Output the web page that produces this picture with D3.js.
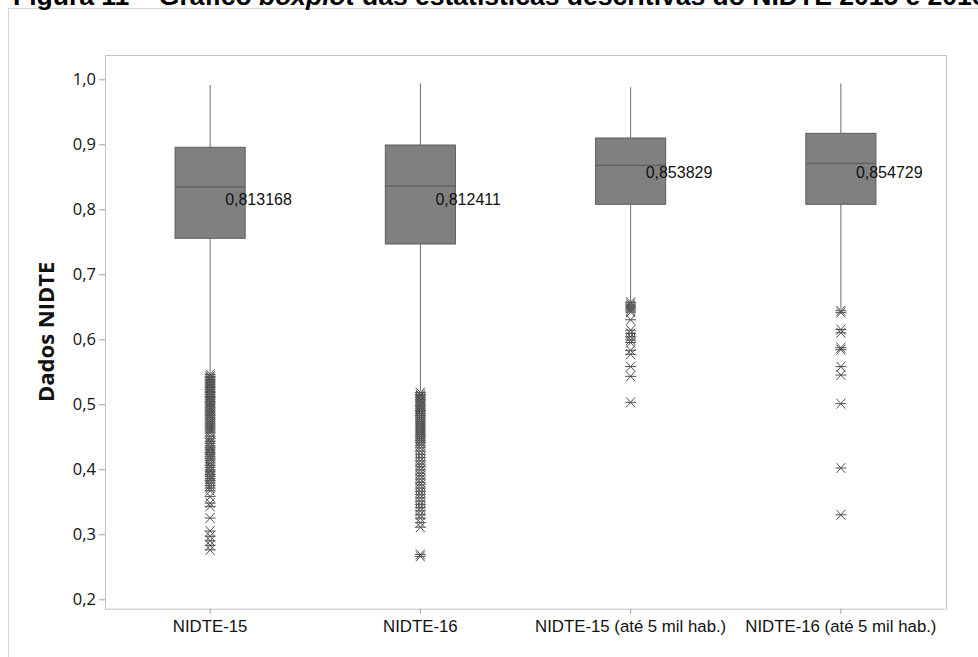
<!DOCTYPE html>
<html lang="pt">
<head>
<meta charset="utf-8">
<script src="https://cdn.jsdelivr.net/npm/d3@7"></script>
<style>
  html, body { margin: 0; padding: 0; background: #fff; }
  svg { display: block; }
</style>
</head>
<body>
<svg id="chart" width="978" height="657"></svg>
<script>
// Categorias e estatísticas de cada boxplot
const categories = ["NIDTE-15", "NIDTE-16", "NIDTE-15 (até 5 mil hab.)", "NIDTE-16 (até 5 mil hab.)"];
const q1Values = [0.7554, 0.7466, 0.8077, 0.8077];
const medianValues = [0.8343, 0.8358, 0.8677, 0.8708];
const q3Values = [0.8954, 0.8989, 0.9097, 0.9169];
const whiskerLowValues = [0.547, 0.520, 0.658, 0.647];
const whiskerHighValues = [0.9912, 0.9938, 0.9877, 0.9938];
const meanValues = [0.813168, 0.812411, 0.853829, 0.854729];

// Valores atípicos (asteriscos) de cada grupo
const outliersNidte15 = [0.546, 0.543, 0.541, 0.538, 0.536, 0.533, 0.531, 0.528, 0.526, 0.523, 0.520, 0.518,
  0.515, 0.512, 0.510, 0.507, 0.504, 0.502, 0.499, 0.496, 0.494, 0.491, 0.488, 0.485, 0.483, 0.480, 0.477,
  0.474, 0.471, 0.468, 0.465, 0.462, 0.459, 0.456, 0.451, 0.447, 0.443, 0.440, 0.436, 0.433, 0.430, 0.426,
  0.423, 0.420, 0.417, 0.414, 0.410, 0.406, 0.403, 0.399, 0.396, 0.392, 0.389, 0.386, 0.383, 0.379, 0.375,
  0.371, 0.367, 0.358, 0.348, 0.343, 0.325, 0.305, 0.297, 0.290, 0.283, 0.276];
const outliersNidte16 = [0.518, 0.515, 0.513, 0.510, 0.507, 0.505, 0.502, 0.499, 0.497, 0.494, 0.491, 0.489,
  0.486, 0.483, 0.480, 0.477, 0.474, 0.471, 0.468, 0.465, 0.462, 0.459, 0.456, 0.453, 0.450, 0.447, 0.444,
  0.441, 0.437, 0.433, 0.428, 0.423, 0.418, 0.413, 0.408, 0.404, 0.399, 0.394, 0.390, 0.385, 0.380, 0.376,
  0.371, 0.366, 0.361, 0.356, 0.351, 0.346, 0.341, 0.336, 0.330, 0.325, 0.318, 0.311, 0.269, 0.266];
const outliersNidte15Small = [0.657, 0.654, 0.651, 0.648, 0.645, 0.642, 0.630, 0.614, 0.609, 0.604, 0.599,
  0.595, 0.583, 0.577, 0.558, 0.543, 0.503];
const outliersNidte16Small = [0.644, 0.641, 0.615, 0.610, 0.587, 0.584, 0.558, 0.545, 0.501, 0.402, 0.330];
const outlierGroups = [outliersNidte15, outliersNidte16, outliersNidte15Small, outliersNidte16Small];

const yTicks = [0.2, 0.3, 0.4, 0.5, 0.6, 0.7, 0.8, 0.9, 1.0];
const yAxisTitle = "Dados NIDTE";
const titleStart = "Figura 11 – Gráfico ";
const titleItalic = "boxplot";
const titleEnd = " das estatísticas descritivas do NIDTE 2015 e 2016";

const ptBR = d3.formatLocale({ decimal: ",", thousands: ".", grouping: [3], currency: ["R$", ""] });
const fmtTick = ptBR.format(".1f");
const fmtMean = ptBR.format(".6f");

const svg = d3.select("#chart");
const W = 978, H = 657;
const plot = { left: 105, right: 946, top: 55, bottom: 608.7 };

// Escalas: a área do gráfico vai um pouco além de 0,2 e 1,0
const y = d3.scaleLinear().domain([0.18554, 1.03738]).range([plot.bottom, plot.top]);
const x = d3.scaleBand().domain(categories).range([plot.left, plot.right]).padding(0);
const cx = c => x(c) + x.bandwidth() / 2;
const boxW = x.bandwidth() / 3;

// Moldura externa
svg.append("rect")
  .attr("x", 8.5).attr("y", 8.5).attr("width", W + 20).attr("height", H + 20)
  .attr("fill", "none").attr("stroke", "#d6d6d6").attr("stroke-width", 1);

// Título (cortado no topo)
const title = svg.append("text")
  .attr("x", 13).attr("y", 5)
  .attr("font-family", "'Liberation Sans', Arial, sans-serif")
  .attr("font-size", 26.5).attr("font-weight", "bold").attr("fill", "#000");
title.append("tspan").text(titleStart);
title.append("tspan").attr("font-style", "italic").text(titleItalic);
title.append("tspan").text(titleEnd);

// Área do gráfico
svg.append("rect")
  .attr("x", plot.left + 0.5).attr("y", plot.top + 0.5)
  .attr("width", plot.right - plot.left).attr("height", plot.bottom - plot.top)
  .attr("fill", "#fff").attr("stroke", "#c4c4c4").attr("stroke-width", 1);

// Eixo Y
const yAxis = svg.append("g")
  .attr("transform", `translate(${plot.left},0)`)
  .call(d3.axisLeft(y).tickValues(yTicks).tickSize(6).tickPadding(3).tickFormat(fmtTick));
yAxis.select(".domain").remove();
yAxis.selectAll(".tick line").attr("stroke", "#a0a0a0");
yAxis.selectAll(".tick text")
  .attr("font-family", "'Open Sans', 'Noto Sans', sans-serif")
  .attr("font-size", 16.5).attr("fill", "#111");

// Eixo X
const xAxis = svg.append("g")
  .attr("transform", `translate(0,${plot.bottom})`)
  .call(d3.axisBottom(x).tickSize(5).tickPadding(6));
xAxis.select(".domain").remove();
xAxis.selectAll(".tick line").attr("stroke", "#a0a0a0");
xAxis.selectAll(".tick text")
  .attr("font-family", "'Liberation Sans', Arial, sans-serif")
  .attr("font-size", 16.8).attr("fill", "#111");

// Título do eixo Y
svg.append("text")
  .attr("transform", `translate(54,${(plot.top + plot.bottom) / 2}) rotate(-90)`)
  .attr("text-anchor", "middle")
  .attr("font-family", "'Open Sans', 'Noto Sans', sans-serif")
  .attr("font-size", 22).attr("font-weight", "bold").attr("fill", "#111")
  .text(yAxisTitle);

// Boxplots
const groups = svg.append("g").selectAll("g")
  .data(categories.map((c, i) => ({
    c, q1: q1Values[i], med: medianValues[i], q3: q3Values[i],
    lo: whiskerLowValues[i], hi: whiskerHighValues[i], mean: meanValues[i], out: outlierGroups[i]
  })))
  .join("g");

// Bigodes
groups.append("line")
  .attr("x1", d => cx(d.c)).attr("x2", d => cx(d.c))
  .attr("y1", d => y(d.hi)).attr("y2", d => y(d.q3))
  .attr("stroke", "#6e6e6e").attr("stroke-width", 1);
groups.append("line")
  .attr("x1", d => cx(d.c)).attr("x2", d => cx(d.c))
  .attr("y1", d => y(d.q1)).attr("y2", d => y(d.lo))
  .attr("stroke", "#6e6e6e").attr("stroke-width", 1);

// Caixa interquartil
groups.append("rect")
  .attr("x", d => cx(d.c) - boxW / 2).attr("width", boxW)
  .attr("y", d => y(d.q3)).attr("height", d => y(d.q1) - y(d.q3))
  .attr("fill", "#808080").attr("stroke", "#5c5c5c").attr("stroke-width", 1);

// Mediana
groups.append("line")
  .attr("x1", d => cx(d.c) - boxW / 2).attr("x2", d => cx(d.c) + boxW / 2)
  .attr("y1", d => y(d.med)).attr("y2", d => y(d.med))
  .attr("stroke", "#565656").attr("stroke-width", 1);

// Asteriscos dos valores atípicos
const star = "M-5.5,0H5.5M-4.5,-5L4.5,5M-4.5,5L4.5,-5";
groups.each(function (d) {
  d3.select(this).selectAll("path.out")
    .data(d.out)
    .join("path")
    .attr("class", "out")
    .attr("transform", v => `translate(${cx(d.c)},${y(v)})`)
    .attr("d", star)
    .attr("fill", "none").attr("stroke", "#505050").attr("stroke-width", 1);
});

// Rótulo da média
groups.append("text")
  .attr("x", d => cx(d.c) + 15).attr("y", d => y(d.mean)).attr("dy", "0.25em")
  .attr("font-family", "'Liberation Sans', Arial, sans-serif")
  .attr("font-size", 16).attr("fill", "#111")
  .text(d => fmtMean(d.mean));
</script>
</body>
</html>
